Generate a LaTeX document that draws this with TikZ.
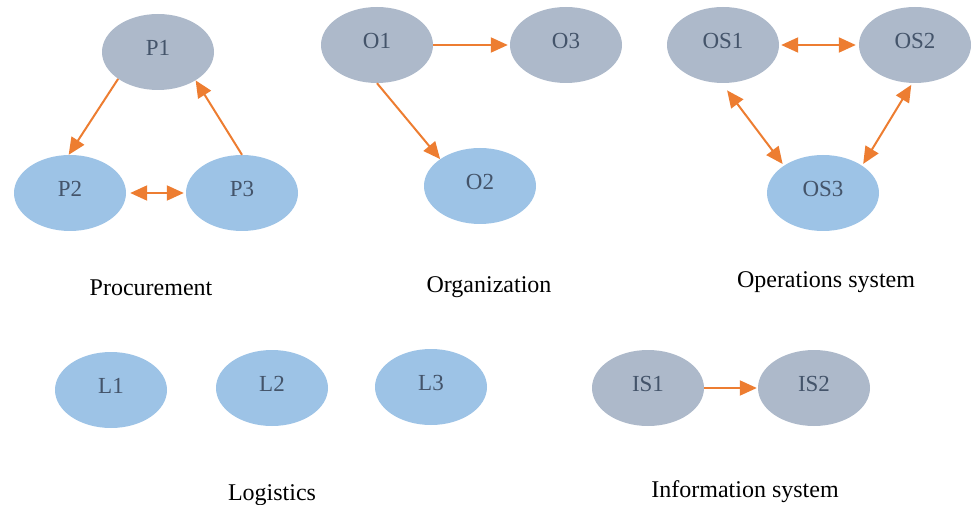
\documentclass[tikz,border=0pt]{standalone}
\usepackage{fontspec}
\setmainfont{Liberation Serif}
\usetikzlibrary{shapes.geometric,arrows.meta}
\definecolor{grayfill}{HTML}{ADB9CA}
\definecolor{bluefill}{HTML}{9DC3E6}
\definecolor{txt}{HTML}{44546A}
\definecolor{arr}{HTML}{ED7D31}
\tikzset{
  ell/.style={ellipse, draw=none, minimum width=112pt, minimum height=76pt, inner sep=0pt,
    text=txt, font=\fontsize{23}{25}\selectfont, text depth=8pt},
  grayell/.style={ell, fill=grayfill},
  blueell/.style={ell, fill=bluefill},
  captxt/.style={font=\fontsize{24}{26}\selectfont, text=black, text height=16pt, text depth=5pt, inner sep=0pt},
  con/.style={draw=arr, line width=2pt, -{Triangle[length=17pt,width=15pt]}},
  bicon/.style={draw=arr, line width=2pt, {Triangle[length=17pt,width=15pt]}-{Triangle[length=17pt,width=15pt]}}
}
\begin{document}
\begin{tikzpicture}[x=1pt,y=-1pt]
\useasboundingbox (0,0) rectangle (972,505);
% Procurement
\node[grayell] (P1) at (158,52) {P1};
\node[blueell] (P2) at (70,193) {P2};
\node[blueell] (P3) at (242,193) {P3};
\node[captxt] (capP) at (151,290) {Procurement};
\draw[con] (P1.214) -- (P2.92);
\draw[con] (P3.90) -- (P1.323);
\draw[bicon, shorten <=4pt, shorten >=2pt] (P2.east) -- (P3.west);
% Organization
\node[grayell] (O1) at (377,45) {O1};
\node[grayell] (O3) at (566,45) {O3};
\node[blueell] (O2) at (480,186) {O2};
\node[captxt] (capO) at (489,287) {Organization};
\draw[con, shorten >=2pt] (O1.east) -- (O3.west);
\draw[con] (O1.270) -- (O2.146);
% Operations system
\node[grayell] (OS1) at (723,45) {OS1};
\node[grayell] (OS2) at (915,45) {OS2};
\node[blueell] (OS3) at (823,193) {OS3};
\node[captxt] (capOS) at (826,282) {Operations system};
\draw[bicon, shorten <=2pt, shorten >=3pt] (OS1.east) -- (OS2.west);
\draw[bicon, shorten <=9pt, shorten >=2pt] (OS1.268) -- (OS3.145);
\draw[bicon, shorten <=2pt, shorten >=2pt] (OS2.266) -- (OS3.35);
% Logistics
\node[blueell] (L1) at (111,390) {L1};
\node[blueell] (L2) at (272,388) {L2};
\node[blueell] (L3) at (431,387) {L3};
\node[captxt] (capL) at (272,495) {Logistics};
% Information system
\node[grayell] (IS1) at (648,388) {IS1};
\node[grayell] (IS2) at (814,388) {IS2};
\node[captxt] (capIS) at (745,492) {Information system};
\draw[con, shorten >=1pt] (IS1.east) -- (IS2.west);
\end{tikzpicture}
\end{document}
